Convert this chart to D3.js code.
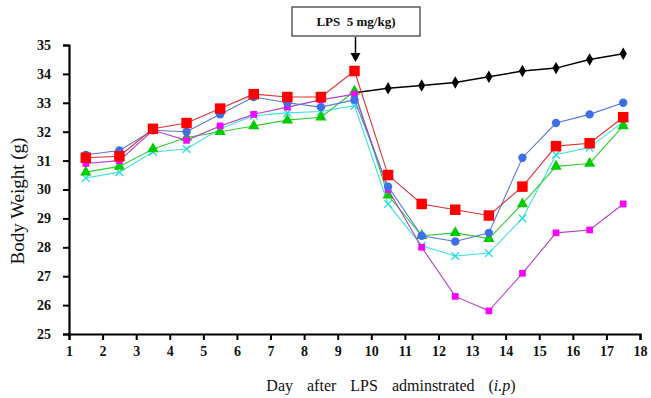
<!DOCTYPE html>
<html>
<head>
<meta charset="utf-8">
<script src="https://cdn.jsdelivr.net/npm/d3@7"></script>
<style>
  body { margin: 0; background: #fff; }
  text { font-family: 'Liberation Serif', 'Times New Roman', serif; }
</style>
</head>
<body>
<svg id="chart" width="651" height="398"></svg>
<script>
const days = [1.5, 2.5, 3.5, 4.5, 5.5, 6.5, 7.5, 8.5, 9.5, 10.5, 11.5, 12.5, 13.5, 14.5, 15.5, 16.5, 17.5]
const xTicks = d3.range(1, 19)
const yTicks = d3.range(25, 36)

const control = [null, null, null, null, null, null, null, null, 33.35, 33.5, 33.6, 33.7, 33.9, 34.1, 34.2, 34.5, 34.7]
const redSeries = [31.1, 31.15, 32.1, 32.3, 32.8, 33.3, 33.2, 33.2, 34.1, 30.5, 29.5, 29.3, 29.1, 30.1, 31.5, 31.6, 32.5]
const blueSeries = [31.2, 31.35, 32.05, 32.0, 32.6, 33.2, 33.0, 32.85, 33.1, 30.1, 28.4, 28.2, 28.5, 31.1, 32.3, 32.6, 33.0]
const magentaSeries = [30.9, 31.0, 32.05, 31.7, 32.2, 32.6, 32.85, 33.1, 33.3, 30.0, 28.0, 26.3, 25.8, 27.1, 28.5, 28.6, 29.5]
const greenSeries = [30.6, 30.8, 31.4, 31.8, 32.0, 32.2, 32.4, 32.5, 33.4, 29.8, 28.4, 28.5, 28.3, 29.5, 30.8, 30.9, 32.2]
const cyanSeries = [30.4, 30.6, 31.3, 31.4, 32.1, 32.55, 32.65, 32.7, 32.9, 29.5, 28.05, 27.7, 27.8, 29.0, 31.2, 31.45, 32.35]

const svg = d3.select('#chart')
const serif = "'Liberation Serif', 'Times New Roman', serif"

const x = d3.scaleLinear().domain([1, 18]).range([69, 640])
const y = d3.scaleLinear().domain([25, 35]).range([334, 45])

// draw order: bottom first (control under the treated groups at day 9.5)
const series = [
  { values: control, line: '#000', fill: '#000', marker: 'diamond', size: 45, width: 1.5 },
  { values: cyanSeries, line: '#3ee0e0', fill: '#22dddd', marker: 'cross', size: 40 },
  { values: greenSeries, line: '#33cc33', fill: '#00cc00', marker: 'triangle', size: 55 },
  { values: magentaSeries, line: '#b040c8', fill: '#ff00ff', marker: 'square', size: 45 },
  { values: blueSeries, line: '#5577dd', fill: '#3f6fe8', marker: 'circle', size: 55 },
  { values: redSeries, line: '#e03030', fill: '#ff0000', marker: 'square', size: 110 }
]

const symbols = {
  cross: d3.symbolX,
  triangle: d3.symbolTriangle,
  square: d3.symbolSquare,
  circle: d3.symbolCircle,
  diamond: d3.symbolDiamond
}

const line = d3.line()
  .defined(d => d.v != null)
  .x(d => x(d.day))
  .y(d => y(d.v))

series.forEach(s => {
  const pts = days.map((day, i) => ({ day, v: s.values[i] }))
  const g = svg.append('g')

  g.append('path')
    .datum(pts)
    .attr('d', line)
    .attr('fill', 'none')
    .attr('stroke', s.line)
    .attr('stroke-width', s.width || 1.1)

  g.selectAll('path.m')
    .data(pts.filter(d => d.v != null))
    .enter()
    .append('path')
    .attr('class', 'm')
    .attr('transform', d => `translate(${x(d.day)},${y(d.v)})`)
    .attr('d', d3.symbol().type(symbols[s.marker]).size(s.size))
    .attr('fill', s.marker === 'cross' ? 'none' : s.fill)
    .attr('stroke', s.marker === 'cross' ? s.fill : 'none')
    .attr('stroke-width', 1.3)
})

// axes
const xAxis = svg.append('g')
  .attr('transform', 'translate(0,334)')
  .call(d3.axisBottom(x).tickValues(xTicks).tickSize(6).tickPadding(6).tickFormat(d3.format('d')))
const yAxis = svg.append('g')
  .attr('transform', 'translate(69,0)')
  .call(d3.axisLeft(y).tickValues(yTicks).tickSize(6).tickPadding(12).tickFormat(d3.format('d')))

;[xAxis, yAxis].forEach(a => {
  a.attr('font-family', serif).attr('font-size', 14).attr('font-weight', 'bold')
  a.select('.domain').attr('stroke', '#000').attr('stroke-width', 2.2)
  a.selectAll('.tick line').attr('stroke', '#000').attr('stroke-width', 2)
  a.selectAll('.tick text').attr('fill', '#111')
})

// axis titles
svg.append('text')
  .attr('transform', 'translate(24,201) rotate(-90)')
  .attr('text-anchor', 'middle')
  .style('font-size', '19px')
  .attr('fill', '#111')
  .text('Body Weight (g)')

const xt = svg.append('text')
  .attr('x', 391)
  .attr('y', 391)
  .attr('text-anchor', 'middle')
  .style('font-size', '16px')
  .style('word-spacing', '10px')
  .attr('fill', '#111')
xt.append('tspan').text('Day after LPS adminstrated (')
xt.append('tspan').style('font-style', 'italic').text('i.p')
xt.append('tspan').text(')')

// LPS annotation
svg.append('rect')
  .attr('x', 292).attr('y', 7)
  .attr('width', 128).attr('height', 29)
  .attr('fill', '#fff')
  .attr('stroke', '#333')
  .attr('stroke-width', 1.2)

svg.append('text')
  .attr('x', 356).attr('y', 26)
  .attr('text-anchor', 'middle')
  .style('font-size', '13px')
  .style('font-weight', 'bold')
  .style('white-space', 'pre')
  .attr('fill', '#111')
  .text('LPS  5 mg/kg)')

const ax = x(9.5) + 1
svg.append('line')
  .attr('x1', ax).attr('x2', ax)
  .attr('y1', 37).attr('y2', 54)
  .attr('stroke', '#000')
  .attr('stroke-width', 1.5)
svg.append('path')
  .attr('d', `M${ax - 5},53 L${ax + 5},53 L${ax},62 Z`)
  .attr('fill', '#000')
</script>
</body>
</html>
